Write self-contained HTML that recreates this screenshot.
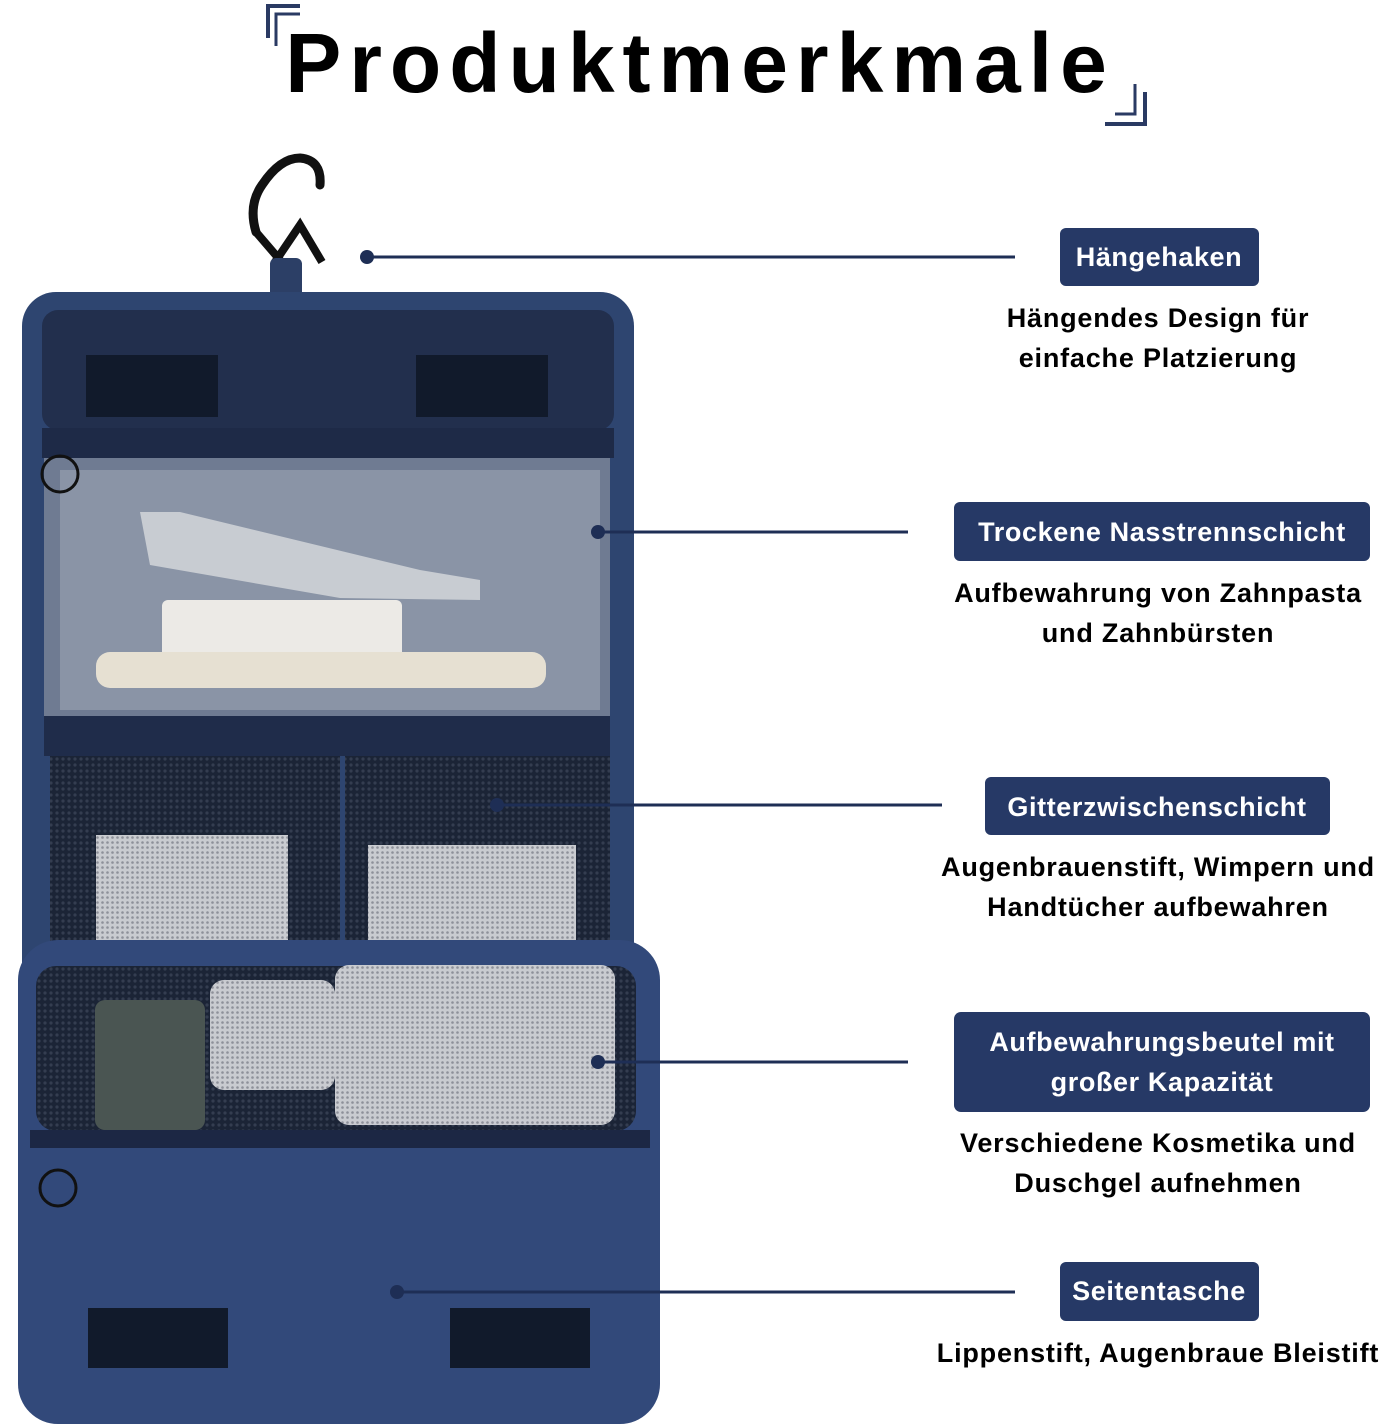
<!DOCTYPE html>
<html><head><meta charset="utf-8"><style>
body{margin:0;background:#fff}
svg{display:block}
text{font-family:"Liberation Sans",sans-serif;font-weight:bold}
</style></head><body>
<svg width="1392" height="1428" viewBox="0 0 1392 1428">
<defs>
<pattern id="mesh" width="6" height="6" patternUnits="userSpaceOnUse"><rect width="6" height="6" fill="#1b2436"/><circle cx="3" cy="3" r="1.6" fill="#343d50"/></pattern>
<pattern id="gmesh" width="5" height="5" patternUnits="userSpaceOnUse"><rect width="5" height="5" fill="#c9cbd0"/><circle cx="2.5" cy="2.5" r="1.3" fill="#8d9099"/></pattern>
</defs>
<!-- title -->
<text x="700" y="92" font-size="84" text-anchor="middle" fill="#000" letter-spacing="8">Produktmerkmale</text>
<path d="M268 38 V6 H300" stroke="#2a3a63" stroke-width="4" fill="none"/>
<path d="M276 46 V14 H300" stroke="#2a3a63" stroke-width="3" fill="none"/>
<path d="M1145 92 V124 H1105" stroke="#2a3a63" stroke-width="4" fill="none"/>
<path d="M1135 84 V114 H1115" stroke="#2a3a63" stroke-width="3" fill="none"/>
<!-- hook -->
<path d="M256 232 Q248 205 262 185 Q280 158 300 158 Q322 160 320 185" stroke="#111" stroke-width="9" fill="none" stroke-linecap="round"/>
<path d="M256 232 L280 260 M300 225 L322 262 L300 225 L275 262" stroke="#111" stroke-width="8" fill="none" stroke-linecap="round"/>
<rect x="270" y="258" width="32" height="48" rx="6" fill="#2c3f66"/>
<!-- bag -->
<rect x="22" y="292" width="612" height="720" rx="34" fill="#2e4570"/>
<rect x="42" y="310" width="572" height="120" rx="16" fill="#222f4d"/>
<rect x="86" y="355" width="132" height="62" fill="#111a2b"/>
<rect x="416" y="355" width="132" height="62" fill="#111a2b"/>
<rect x="42" y="428" width="572" height="30" fill="#1e2a47"/>
<rect x="44" y="458" width="566" height="258" fill="#6f7b92"/>
<rect x="60" y="470" width="540" height="240" fill="#8a94a6"/>
<path d="M140 512 L180 512 L420 570 L480 580 L480 600 L340 598 L150 565 Z" fill="#c8ccd2"/>
<rect x="162" y="600" width="240" height="72" rx="6" fill="#eceae6"/>
<rect x="96" y="652" width="450" height="36" rx="14" fill="#e6e0d2"/>
<rect x="44" y="716" width="566" height="40" fill="#1f2c4a"/>
<rect x="50" y="756" width="290" height="200" fill="url(#mesh)"/>
<rect x="345" y="756" width="265" height="200" fill="url(#mesh)"/>
<rect x="96" y="835" width="192" height="110" fill="url(#gmesh)"/>
<rect x="368" y="845" width="208" height="95" fill="url(#gmesh)"/>
<!-- lower pocket -->
<rect x="18" y="940" width="642" height="484" rx="40" fill="#32497a"/>
<rect x="36" y="966" width="600" height="165" rx="20" fill="url(#mesh)"/>
<rect x="95" y="1000" width="110" height="130" rx="10" fill="#4a5552"/>
<rect x="210" y="980" width="125" height="110" rx="14" fill="url(#gmesh)"/>
<rect x="335" y="965" width="280" height="160" rx="14" fill="url(#gmesh)"/>
<rect x="30" y="1130" width="620" height="18" fill="#1c2744"/>
<rect x="88" y="1308" width="140" height="60" fill="#111a2b"/>
<rect x="450" y="1308" width="140" height="60" fill="#111a2b"/>
<circle cx="58" cy="1188" r="18" fill="none" stroke="#111" stroke-width="3"/>
<circle cx="60" cy="474" r="18" fill="none" stroke="#111" stroke-width="3"/>
<!-- connectors -->
<g stroke="#1e2e55" stroke-width="3">
<line x1="367" y1="257" x2="1015" y2="257"/>
<line x1="598" y1="532" x2="908" y2="532"/>
<line x1="497" y1="805" x2="942" y2="805"/>
<line x1="598" y1="1062" x2="908" y2="1062"/>
<line x1="397" y1="1292" x2="1015" y2="1292"/>
</g>
<g fill="#1e2e55">
<circle cx="367" cy="257" r="7"/><circle cx="598" cy="532" r="7"/><circle cx="497" cy="805" r="7"/><circle cx="598" cy="1062" r="7"/><circle cx="397" cy="1292" r="7"/>
</g>
<!-- label boxes -->
<g fill="#263966">
<rect x="1060" y="228" width="199" height="58" rx="6"/>
<rect x="954" y="502" width="416" height="59" rx="6"/>
<rect x="985" y="777" width="345" height="58" rx="6"/>
<rect x="954" y="1012" width="416" height="100" rx="7"/>
<rect x="1060" y="1262" width="199" height="59" rx="6"/>
</g>
<g fill="#fff" font-size="27" text-anchor="middle" letter-spacing="0.6">
<text x="1159" y="266">Hängehaken</text>
<text x="1162" y="541">Trockene Nasstrennschicht</text>
<text x="1157" y="816">Gitterzwischenschicht</text>
<text x="1162" y="1051">Aufbewahrungsbeutel mit</text>
<text x="1162" y="1091">großer Kapazität</text>
<text x="1159" y="1300">Seitentasche</text>
</g>
<g fill="#000" font-size="27" text-anchor="middle" letter-spacing="0.8">
<text x="1158" y="327">Hängendes Design für</text>
<text x="1158" y="367">einfache Platzierung</text>
<text x="1158" y="602">Aufbewahrung von Zahnpasta</text>
<text x="1158" y="642">und Zahnbürsten</text>
<text x="1158" y="876">Augenbrauenstift, Wimpern und</text>
<text x="1158" y="916">Handtücher aufbewahren</text>
<text x="1158" y="1152">Verschiedene Kosmetika und</text>
<text x="1158" y="1192">Duschgel aufnehmen</text>
<text x="1158" y="1362">Lippenstift, Augenbraue Bleistift</text>
</g>
</svg>
</body></html>
